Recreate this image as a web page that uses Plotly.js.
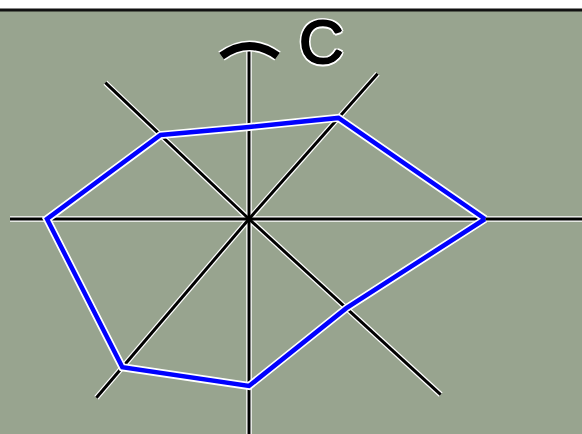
<!DOCTYPE html>
<html>
<head>
<meta charset="utf-8">
<script src="https://cdn.plot.ly/plotly-3.0.1.min.js"></script>
<style>
  html, body { margin: 0; padding: 0; background: #ffffff; }
  #chart { width: 582px; height: 434px; }
</style>
</head>
<body>
<div id="chart"></div>
<script>
// 8本の軸の向き（度）と長さ
const spokeAngles = [0, 48.5, 90, 136.5, 180, 229.5, 270, 317.5];
const spokeLengths = [40, 19.4, 16.9, 19.8, 23.9, 23.5, 25, 26.0];

// 各軸の値（青い多角形）
const values = [23.6, 13.5, 9.2, 12.2, 20.2, 19.5, 16.7, 13.2];

const labelText = 'C';

const rad = d => d * Math.PI / 180;
const toX = (r, a) => r * Math.cos(rad(a));
const toY = (r, a) => r * Math.sin(rad(a));

const traces = [];

// 軸線（白い縁取り→黒）
[{ color: '#ffffff', width: 5.5 }, { color: '#000000', width: 3 }].forEach(style => {
    spokeAngles.forEach((a, i) => {
        traces.push({
            x: [0, toX(spokeLengths[i], a)],
            y: [0, toY(spokeLengths[i], a)],
            type: 'scatter',
            mode: 'lines',
            line: style,
            hoverinfo: 'skip',
            showlegend: false
        });
    });
});

// 多角形（閉じる）
const polyX = values.map((v, i) => toX(v, spokeAngles[i]));
const polyY = values.map((v, i) => toY(v, spokeAngles[i]));
polyX.push(polyX[0]);
polyY.push(polyY[0]);

[{ color: '#ffffff', width: 8 }, { color: '#0000ff', width: 4.5 }].forEach(style => {
    traces.push({
        x: polyX,
        y: polyY,
        type: 'scatter',
        mode: 'lines',
        line: style,
        hoverinfo: 'skip',
        showlegend: false
    });
});

const capPath = 'M -2.75,16.3 Q 0.05,18.3 2.85,16.3';

// 文字の縁取り：黒で少し太らせてから白
const halo = [
    '1px 0 0 #000', '-1px 0 0 #000', '0 1px 0 #000', '0 -1px 0 #000',
    '2.5px 0 0 #fff', '-2.5px 0 0 #fff', '0 2.5px 0 #fff', '0 -2.5px 0 #fff',
    '1.8px 1.8px 0 #fff', '-1.8px -1.8px 0 #fff', '1.8px -1.8px 0 #fff', '-1.8px 1.8px 0 #fff'
].join(', ');

const layout = {
    width: 582,
    height: 434,
    margin: { l: 0, r: 0, t: 10, b: 0 },
    paper_bgcolor: '#ffffff',
    plot_bgcolor: '#98a48f',
    xaxis: { range: [-24.9, 33.3], visible: false, fixedrange: true },
    yaxis: { range: [-21.5, 20.9], visible: false, fixedrange: true },
    shapes: [
        { type: 'line', xref: 'paper', yref: 'paper', x0: 0, x1: 1, y0: 1, y1: 1,
          line: { color: '#111111', width: 3 } },
        { type: 'path', xref: 'x', yref: 'y', path: capPath,
          line: { color: '#ffffff', width: 11 } },
        { type: 'path', xref: 'x', yref: 'y', path: capPath,
          line: { color: '#000000', width: 8 } }
    ],
    annotations: [{
        x: 7.2,
        y: 17.8,
        xref: 'x',
        yref: 'y',
        text: labelText,
        showarrow: false,
        xanchor: 'center',
        yanchor: 'middle',
        font: {
            family: 'Liberation Sans, Arial, sans-serif',
            size: 62,
            weight: 'normal',
            color: '#000000',
            shadow: halo
        }
    }]
};

Plotly.newPlot('chart', traces, layout, { displayModeBar: false, staticPlot: true });
</script>
</body>
</html>
